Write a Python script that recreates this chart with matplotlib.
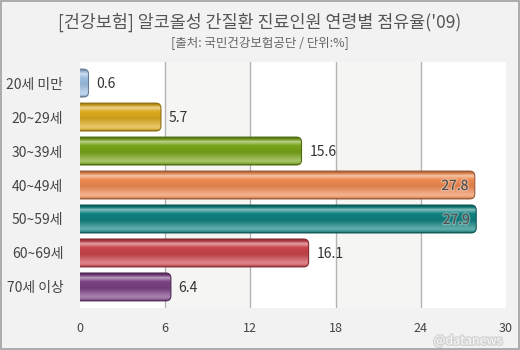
import matplotlib.pyplot as plt
import matplotlib.patheffects as pe
import numpy as np
from matplotlib.colors import to_rgb
from matplotlib.patches import FancyBboxPatch, Rectangle

plt.rcParams['font.family'] = ['Noto Sans CJK KR', 'DejaVu Sans']

categories = ['20세 미만', '20~29세', '30~39세', '40~49세', '50~59세', '60~69세', '70세 이상']
shares = [0.6, 5.7, 15.6, 27.8, 27.9, 16.1, 6.4]
bar_colors = ['#9fc0e2', '#dcaa1e', '#78a41a', '#ee8a52', '#108280', '#c9444c', '#7b4184']
x_ticks = [0, 6, 12, 18, 24, 30]

title = "[건강보험] 알코올성 간질환 진료인원 연령별 점유율('09)"
subtitle = "[출처: 국민건강보험공단 / 단위:%]"


def mix(c, other, f):
    return tuple((1 - f) * a + f * b for a, b in zip(c, other))


def bar_gradient(color, n=60):
    # vertical glossy profile: dark rim, highlight, body, lighter bottom, dark rim
    base = to_rgb(color)
    white, black = (1, 1, 1), (0, 0, 0)
    stops = [
        (0.00, mix(base, black, 0.35)),
        (0.07, mix(base, black, 0.10)),
        (0.16, mix(base, white, 0.50)),
        (0.30, base),
        (0.55, mix(base, black, 0.08)),
        (0.85, mix(base, white, 0.35)),
        (0.94, mix(base, white, 0.20)),
        (1.00, mix(base, black, 0.35)),
    ]
    t = np.linspace(0, 1, n)
    pos = [s[0] for s in stops]
    img = np.zeros((n, 1, 3))
    for ch in range(3):
        img[:, 0, ch] = np.interp(t, pos, [s[1][ch] for s in stops])
    return img


fig = plt.figure(figsize=(5.2, 3.5), dpi=100)
fig.patch.set_facecolor('#f2f2f2')
ax = fig.add_axes([80 / 520, 1 - 308 / 350, 426 / 520, 246 / 350])
ax.set_facecolor('white')

# alternating background bands with grid lines
for i in range(len(x_ticks) - 1):
    if i % 2 == 1:
        ax.axvspan(x_ticks[i], x_ticks[i + 1], color='#f5f5f3', zorder=0, lw=0)
for xt in x_ticks[1:-1]:
    ax.axvline(xt, color='#b4b4b4', lw=1, zorder=1)

bar_h = 0.82
px_x = 426 / 30
px_y = 34
r_x = 5 / px_x
r_y = 5 / px_y
for i, (val, col) in enumerate(zip(shares, bar_colors)):
    x0 = -0.5
    w = val - x0
    y0 = i - bar_h / 2
    rs = min(r_x, w / 2)
    patch = FancyBboxPatch((x0, y0), w, bar_h,
                           boxstyle=f'round,pad=0,rounding_size={rs}',
                           mutation_aspect=r_y / r_x,
                           facecolor='none', edgecolor=mix(to_rgb(col), (0, 0, 0), 0.35),
                           lw=0.8, zorder=3)
    ax.add_patch(patch)
    im = ax.imshow(bar_gradient(col), extent=(x0, val, i + bar_h / 2, i - bar_h / 2),
                   origin='upper', aspect='auto', interpolation='bilinear', zorder=2)
    im.set_clip_path(patch)

    label = f'{val:.1f}'
    if val > 25:
        ax.text(val - 0.45, i + 0.03, label, ha='right', va='center', fontsize=10,
                color='#505050', zorder=4,
                path_effects=[pe.withStroke(linewidth=2, foreground=(1, 1, 1, 0.3))])
    else:
        ax.text(val + 0.55, i + 0.03, label, ha='left', va='center', fontsize=10,
                color='#333333', zorder=4)

ax.set_xlim(0, 30)
ax.set_ylim(len(categories) - 1 + 0.62, -0.62)
ax.set_xticks(x_ticks)
ax.set_xticklabels([str(t) for t in x_ticks], fontsize=9, color='#444444')
ax.set_yticks(range(len(categories)))
ax.set_yticklabels(categories, fontsize=10, color='#444444')
ax.tick_params(length=0)
ax.tick_params(axis='x', pad=10)
ax.tick_params(axis='y', pad=12)
for s in ax.spines.values():
    s.set_visible(False)

fig.text(0.5, 1 - 22 / 350, title, ha='center', va='center', fontsize=12.5,
         color='#555555')
fig.text(0.5, 1 - 43 / 350, subtitle, ha='center', va='center', fontsize=9,
         color='#666666')

fig.text(468 / 520, 1 - 341 / 350, '@datanews', ha='center', va='center', fontsize=9,
         color='#f8f8f8', path_effects=[pe.withStroke(linewidth=2, foreground='#d4d4d4')])

fig.patches.append(Rectangle((0.001, 0.002), 0.997, 0.996, transform=fig.transFigure,
                             fill=False, edgecolor='#a0a0a0', lw=1.2))

fig.savefig('out.png', dpi=100, facecolor=fig.get_facecolor())
